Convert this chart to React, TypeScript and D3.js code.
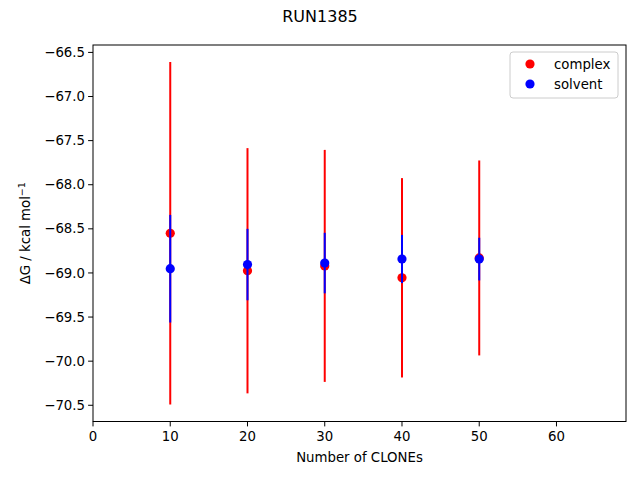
import React from "react";
import * as d3 from "d3";

const clones = [10, 20, 30, 40, 50];
const complexMean = [-68.55, -68.975, -68.92, -69.055, -68.83];
const complexErr = [1.94, 1.39, 1.315, 1.13, 1.105];
const solventMean = [-68.952, -68.905, -68.888, -68.842, -68.843];
const solventErr = [0.61, 0.405, 0.343, 0.273, 0.242];
const yTicks = [-66.5, -67.0, -67.5, -68.0, -68.5, -69.0, -69.5, -70.0, -70.5];
const xTicks = [0, 10, 20, 30, 40, 50, 60];

const W = 640, H = 480;
const L = 93, R = 626, T = 45, B = 421.5;
const FONT = "DejaVu Sans, sans-serif";

export default function App() {
  const x = d3.scaleLinear().domain([0, 69]).range([L, R]);
  const yMin = d3.min(clones.map((_, i) => complexMean[i] - complexErr[i]))!;
  const yMax = d3.max(clones.map((_, i) => complexMean[i] + complexErr[i]))!;
  const pad = (yMax - yMin) * 0.05;
  const y = d3.scaleLinear().domain([yMin - pad, yMax + pad]).range([B, T]);
  const fmt = (v: number) => (v < 0 ? "\u2212" : "") + Math.abs(v).toFixed(1);

  const series = [
    { name: "complex", color: "red", mean: complexMean, err: complexErr },
    { name: "solvent", color: "blue", mean: solventMean, err: solventErr },
  ];

  return (
    <svg width={W} height={H} style={{ position: "absolute", left: 0, top: 0 }} fontFamily={FONT}>
      <rect width={W} height={H} fill="white" />
      <text x={320} y={22} textAnchor="middle" fontSize={16}>RUN1385</text>
      {series.map((s) => (
        <g key={s.name}>
          {clones.map((c, i) => (
            <line key={"e" + i} x1={x(c)} x2={x(c)} y1={y(s.mean[i] + s.err[i])} y2={y(s.mean[i] - s.err[i])}
              stroke={s.color} strokeWidth={2} />
          ))}
          {clones.map((c, i) => (
            <circle key={"p" + i} cx={x(c)} cy={y(s.mean[i])} r={4.6} fill={s.color} />
          ))}
        </g>
      ))}
      <rect x={L} y={T} width={R - L} height={B - T} fill="none" stroke="black" strokeWidth={1} />
      {xTicks.map((t) => (
        <g key={t} transform={`translate(${x(t)},${B})`}>
          <line y2={4.9} stroke="black" />
          <text y={19} textAnchor="middle" fontSize={13.3}>{t}</text>
        </g>
      ))}
      {yTicks.map((t) => (
        <g key={t} transform={`translate(${L},${y(t)})`}>
          <line x2={-4.9} stroke="black" />
          <text x={-8} dy="0.35em" textAnchor="end" fontSize={13.3}>{fmt(t)}</text>
        </g>
      ))}
      <text x={(L + R) / 2} y={462} textAnchor="middle" fontSize={13.3}>Number of CLONEs</text>
      <text transform={`translate(30,${(T + B) / 2}) rotate(-90)`} textAnchor="middle" fontSize={13.3}>
        ΔG / kcal mol<tspan dy={-5} fontSize={9.5}>−1</tspan>
      </text>
      <g>
        <rect x={510} y={52} width={108} height={46} rx={3} fill="white" fillOpacity={0.8} stroke="#cccccc" />
        {series.map((s, i) => (
          <g key={s.name} transform={`translate(0,${64 + i * 20})`}>
            <circle cx={530} cy={0} r={4.6} fill={s.color} />
            <text x={554} dy="0.35em" fontSize={13.3}>{s.name}</text>
          </g>
        ))}
      </g>
    </svg>
  );
}
